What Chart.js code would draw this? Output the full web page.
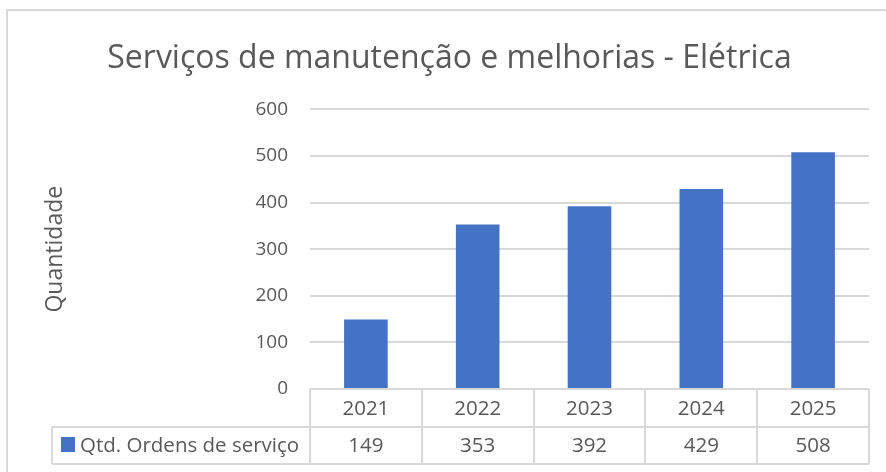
<!DOCTYPE html>
<html>
<head>
<meta charset="utf-8">
<script src="https://cdn.jsdelivr.net/npm/chart.js@4/dist/chart.umd.min.js"></script>
<style>
    html, body { margin: 0; padding: 0; background: #fff; }
    #wrap { width: 886px; height: 472px; }
</style>
</head>
<body>
<div id="wrap"><canvas id="bar_servicos" width="886" height="472"></canvas></div>
<script>
// dados do gráfico
const anos = ['2021', '2022', '2023', '2024', '2025'];
const qtdOrdens = [149, 353, 392, 429, 508];
const serieNome = 'Qtd. Ordens de serviço';
const tituloTexto = 'Serviços de manutenção e melhorias - Elétrica';
const eixoYTitulo = 'Quantidade';
const eixoYMin = 0, eixoYMax = 600, eixoYPasso = 100;

const FONTE = "'Open Sans', sans-serif";
const COR_TEXTO = '#595959';
const COR_GRADE = '#d9d9d9';
const COR_BARRA = '#4472C4';

/**
 * moldura externa do gráfico
 */
const molduraPlugin = {
    id: 'moldura',
    beforeDraw(chart) {
        const ctx = chart.ctx;
        ctx.save();
        ctx.strokeStyle = COR_GRADE;
        ctx.lineWidth = 2;
        ctx.beginPath();
        ctx.moveTo(7, 472);
        ctx.lineTo(7, 10);
        ctx.lineTo(886, 10);
        ctx.stroke();
        ctx.restore();
    }
};

/**
 * tabela de dados abaixo do eixo (estilo Excel)
 */
const tabelaPlugin = {
    id: 'tabelaDados',
    afterDraw(chart) {
        const ctx = chart.ctx;
        const area = chart.chartArea;
        const xs = chart.scales.x;
        const n = anos.length;
        const larg = (area.right - area.left) / n;
        const topo = area.bottom;
        const meio = topo + 38;
        const base = meio + 37;
        const esq = 52;

        ctx.save();
        ctx.strokeStyle = COR_GRADE;
        ctx.lineWidth = 2;
        ctx.beginPath();
        // linhas horizontais
        ctx.moveTo(area.left, topo); ctx.lineTo(area.right, topo);
        ctx.moveTo(esq, meio); ctx.lineTo(area.right, meio);
        ctx.moveTo(esq, base); ctx.lineTo(area.right, base);
        // linhas verticais
        ctx.moveTo(esq, meio); ctx.lineTo(esq, base);
        for (let i = 0; i <= n; i++) {
            const x = Math.round(area.left + i * larg);
            ctx.moveTo(x, topo); ctx.lineTo(x, base);
        }
        ctx.stroke();

        ctx.fillStyle = COR_TEXTO;
        ctx.font = '20.5px ' + FONTE;
        ctx.textAlign = 'center';
        ctx.textBaseline = 'middle';
        anos.forEach((a, i) => {
            const x = xs.getPixelForValue(i);
            ctx.fillText(a, x, (topo + meio) / 2 + 1);
            ctx.fillText(String(qtdOrdens[i]), x, (meio + base) / 2 + 1);
        });

        // legenda
        ctx.fillStyle = COR_BARRA;
        ctx.fillRect(61, meio + 10, 14, 15);
        ctx.fillStyle = COR_TEXTO;
        ctx.textAlign = 'left';
        ctx.fillText(serieNome, 80, (meio + base) / 2 + 1);
        ctx.restore();
    }
};

function setChartConfig() {
    let config = {
        type: 'bar',
        data: {
            labels: anos,
            datasets: [{
                label: serieNome,
                backgroundColor: COR_BARRA,
                borderWidth: 0,
                data: qtdOrdens,
                categoryPercentage: 1,
                barPercentage: 0.39
            }]
        },
        options: {
            responsive: false,
            animation: { duration: 0 },
            layout: {
                padding: { left: 30, right: 17, top: 10, bottom: 83 }
            },
            plugins: {
                legend: { display: false },
                tooltip: { enabled: false },
                title: {
                    display: true,
                    text: tituloTexto,
                    color: COR_TEXTO,
                    font: { family: FONTE, size: 32, weight: 'normal' },
                    padding: { top: 30, bottom: 31 }
                }
            },
            scales: {
                x: {
                    display: false
                },
                y: {
                    min: eixoYMin,
                    max: eixoYMax,
                    border: { display: false },
                    ticks: {
                        stepSize: eixoYPasso,
                        color: COR_TEXTO,
                        font: { family: FONTE, size: 19 },
                        padding: 22
                    },
                    grid: {
                        color: COR_GRADE,
                        lineWidth: 2,
                        drawTicks: false
                    },
                    title: {
                        display: true,
                        text: eixoYTitulo,
                        color: COR_TEXTO,
                        font: { family: FONTE, size: 23 },
                        padding: { top: 12, bottom: 0 }
                    },
                    afterFit(scale) {
                        scale.width = 280;
                    }
                }
            }
        },
        plugins: [molduraPlugin, tabelaPlugin]
    };
    return config;
}

const graficoServicos = new Chart(document.getElementById('bar_servicos'), setChartConfig());
</script>
</body>
</html>
